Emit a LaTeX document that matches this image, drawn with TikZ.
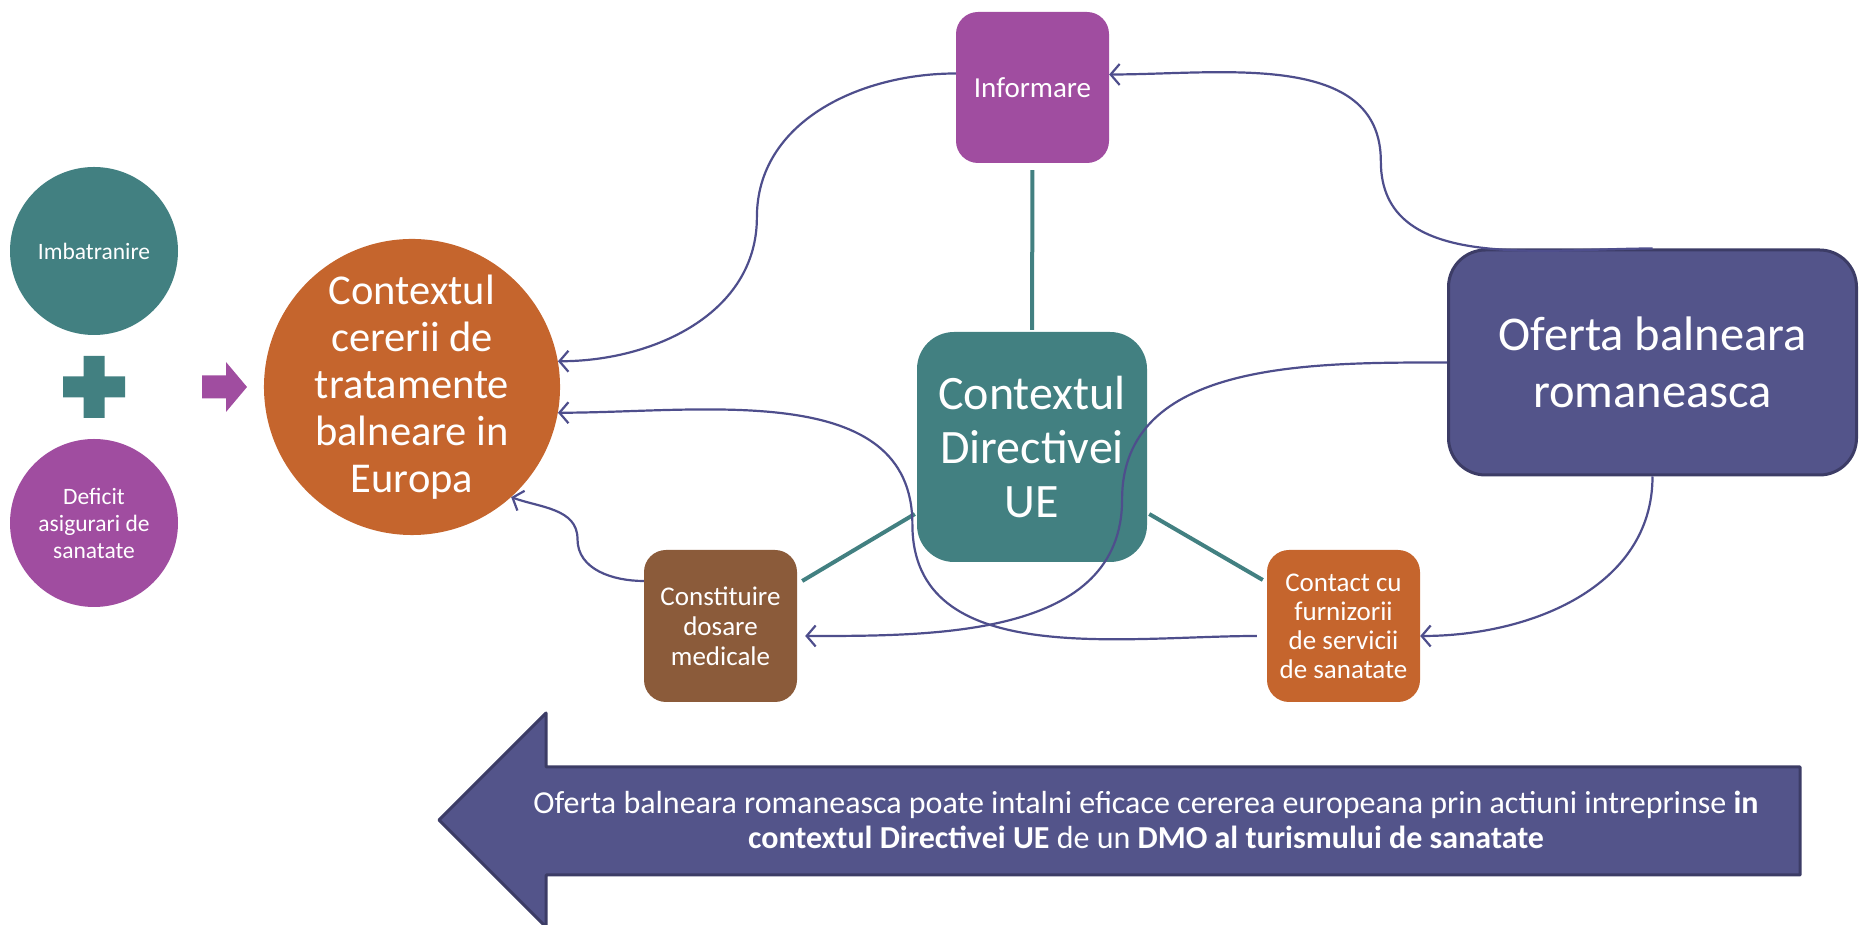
\documentclass[tikz,border=0pt]{standalone}
\usepackage{fontspec}
\setmainfont{Carlito}
\usetikzlibrary{arrows.meta,calc}
\definecolor{tealc}{RGB}{66,128,129}
\definecolor{plum}{RGB}{160,77,160}
\definecolor{rust}{RGB}{197,101,45}
\definecolor{bark}{RGB}{139,91,58}
\definecolor{indigo}{RGB}{83,84,138}
\definecolor{indigoline}{RGB}{60,60,102}
\definecolor{linkc}{RGB}{78,78,140}
\begin{document}
\begin{tikzpicture}[
  x=1pt, y=1pt,
  every node/.style={text=white, align=center, inner sep=0pt},
  bubble/.style={circle, minimum size=168pt, font=\fontsize{23.5}{27}\selectfont},
  smallbox/.style={rounded corners=22pt, minimum width=153pt, minimum height=152pt, font=\fontsize{27}{30}\selectfont},
  link/.style={draw=linkc, line width=2.2pt, -{Straight Barb[length=9pt,width=21pt]}},
  spoke/.style={draw=tealc, line width=4pt}
]
\useasboundingbox (0,0) rectangle (1860,925);
\node[bubble, fill=tealc] (imb) at (94,674) {Imbatranire};
\node[bubble, fill=plum] (def) at (94,402) {Deficit\\asigurari de\\sanatate};
\fill[tealc] (83.5,507) rectangle (104.5,569) (63,527.5) rectangle (125,548.5);
\fill[plum] (202,526.5) -- (226,526.5) -- (226,513) -- (247,538) -- (226,563) -- (226,549.5) -- (202,549.5) -- cycle;
\node[circle, fill=rust, minimum size=285pt, font=\fontsize{42.5}{47}\selectfont] (ctr) at (412,538)
  {Contextul\\cererii de\\tratamente\\balneare in\\Europa};
\node[smallbox, fill=plum, minimum height=151pt, font=\fontsize{29}{32}\selectfont] (info) at (1032.5,837.5) {Informare};
\node[rounded corners=37pt, fill=tealc, minimum size=230pt, font=\fontsize{48}{54}\selectfont] (dir) at (1032,478)
  {Contextul\\Directivei\\UE};
\node[rounded corners=37pt, fill=indigo, draw=indigoline, line width=3pt, minimum width=408pt, minimum height=225pt,
  font=\fontsize{48.5}{57}\selectfont] (ofr) at (1652.5,562.5) {Oferta balneara\\romaneasca};
\node[smallbox, fill=bark] (dos) at (720.5,299) {Constituire\\dosare\\medicale};
\node[smallbox, fill=rust, font=\fontsize{27}{29}\selectfont] (cnt) at (1343.5,299) {Contact cu\\furnizorii\\de servicii\\de sanatate};
\filldraw[fill=indigo, draw=indigoline, line width=3pt, line join=round]
  (439,105) -- (546,212) -- (546,158) -- (1800,158) -- (1800,50) -- (546,50) -- (546,-2) -- cycle;
\node[font=\fontsize{32}{35.5}\selectfont] (msg) at (1146,105)
  {Oferta balneara romaneasca poate intalni eficace cererea europeana prin actiuni intreprinse \textbf{in}\\
   \textbf{contextul Directivei UE} de un \textbf{DMO al turismului de sanatate}};
\draw[spoke, shorten <=7pt, shorten >=2pt] (info.south) -- (dir.north);
\draw[spoke] ([xshift=-2pt,yshift=-67pt]dir.west) -- ([xshift=5pt,yshift=45pt]dos.east);
\draw[spoke] ([xshift=2pt,yshift=-67pt]dir.east) -- ([xshift=-4pt,yshift=46pt]cnt.west);
\coordinate (infoL) at ([yshift=14pt]info.west);
\coordinate (infoR) at ([yshift=13pt]info.east);
\coordinate (dosL) at ([yshift=45pt]dos.west);
\coordinate (dosR) at ([yshift=-10pt]dos.east);
\coordinate (cntL) at ([yshift=-10pt]cnt.west);
\coordinate (cntR) at ([yshift=-10pt]cnt.east);
\draw[link] (infoL) to[out=180,in=90] ($(infoL)!.5!(ctr.10)$) to[out=-90,in=0] (ctr.10);
\draw[link] (ofr.north) to[out=180,in=-90] ($(ofr.north)!.5!(infoR)$) to[out=90,in=0] (infoR);
\draw[link, shorten >=8pt] (ofr.west) to[out=180,in=90] ($(ofr.west)!.5!(dosR)$) to[out=-90,in=0] (dosR);
\draw[link, shorten <=10pt] (cntL) to[out=180,in=-90] ($(cntL)!.5!(ctr.-10)$) to[out=90,in=0] (ctr.-10);
\draw[link] (ofr.south) to[out=-90,in=0] (cntR);
\draw[link] (dosL) to[out=180,in=-90] ($(dosL)!.5!(ctr.-48)$) to[out=90,in=-20] (ctr.-48);
\end{tikzpicture}
\end{document}
